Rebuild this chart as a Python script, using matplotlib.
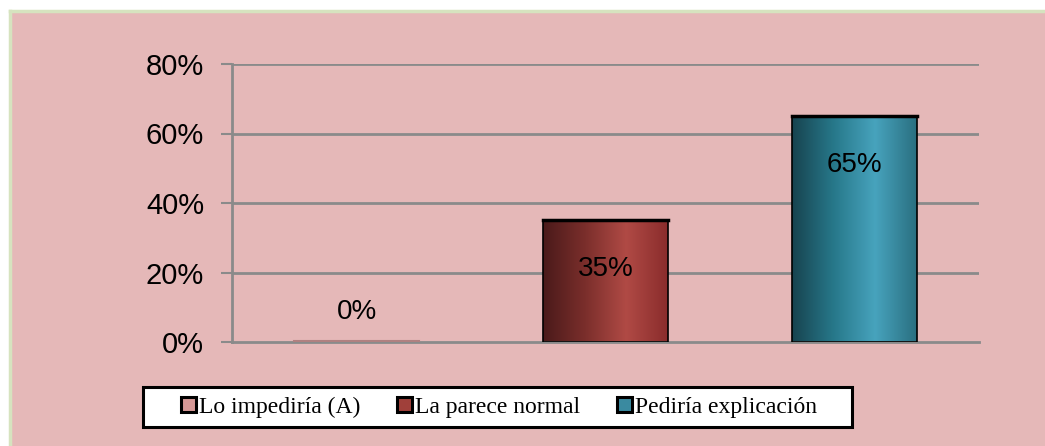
import numpy as np
import matplotlib.pyplot as plt
from matplotlib.colors import LinearSegmentedColormap
from matplotlib.patches import Patch, Rectangle

# Responses and share of answers
categories = ["Lo impediría (A)", "La parece normal", "Pediría explicación"]
values = [0.0, 0.35, 0.65]
labels = ["0%", "35%", "65%"]
yticks = [0.0, 0.2, 0.4, 0.6, 0.8]

bg = "#e5b8b8"
legend_colors = ["#d69896", "#a0403a", "#3a8aa0"]
# horizontal shading for each bar (dark edge -> highlight -> mid)
shades = [
    ["#b87878", "#f0b0b0", "#d89090"],
    ["#4a1a1a", "#7a2e2b", "#b04a45", "#8a2c2c"],
    ["#17434f", "#27788a", "#47a3bd", "#2a6f80"],
]

W, H = 1045, 446
fig = plt.figure(figsize=(W / 100, H / 100), dpi=100)
fig.patch.set_facecolor("white")

# pink panel with light green edge on top/left
back = fig.add_axes([10 / W, 0, 1 - 10 / W, 1 - 11 / H], zorder=-1)
back.set_facecolor(bg)
back.set_xticks([])
back.set_yticks([])
for s in ["right", "bottom"]:
    back.spines[s].set_visible(False)
for s in ["top", "left"]:
    back.spines[s].set_color("#d6e3bf")
    back.spines[s].set_linewidth(2.5)

ax = fig.add_axes([232 / W, 1 - 342 / H, (979 - 232) / W, (342 - 64) / H], zorder=1)
ax.set_facecolor("none")
ax.set_xlim(-0.5, 2.5)
ax.set_ylim(0, 0.8)

for y in yticks[1:]:
    ax.axhline(y, color="#8a8a8a", lw=2, zorder=1)

x = np.arange(len(categories))
width = 0.5
bars = ax.bar(x, values, width, color="none", edgecolor="black", lw=1.2, zorder=3)
grad = np.linspace(0, 1, 256).reshape(1, -1)
for i, (b, v) in enumerate(zip(bars, values)):
    if v <= 0:
        ax.plot([b.get_x(), b.get_x() + width], [0.002, 0.002], color="#b08080", lw=1.5, zorder=3)
        continue
    cmap = LinearSegmentedColormap.from_list(f"c{i}", shades[i])
    im = ax.imshow(grad, cmap=cmap, aspect="auto", zorder=2,
                   extent=[b.get_x(), b.get_x() + width, 0, v])
    im.set_clip_path(b)
    ax.plot([b.get_x(), b.get_x() + width], [v, v], color="black", lw=2.5, zorder=4)

for xi, v, lab in zip(x, values, labels):
    y = v - 0.14 if v > 0.1 else v + 0.085
    ax.text(xi, y, lab, ha="center", va="center", fontsize=20,
            family="Liberation Sans", zorder=5)

ax.set_yticks(yticks)
ax.set_yticklabels([f"{int(t * 100)}%" for t in yticks], fontsize=21, family="Liberation Sans")
ax.set_xticks([])
ax.tick_params(axis="y", length=8, width=1.5, color="#8a8a8a", pad=12)
for s in ["top", "right"]:
    ax.spines[s].set_visible(False)
for s in ["left", "bottom"]:
    ax.spines[s].set_color("#8a8a8a")
    ax.spines[s].set_linewidth(2)

# legend box
fig.add_artist(Rectangle((143 / W, 1 - 427 / H), (852 - 143) / W, 40 / H,
                         transform=fig.transFigure, facecolor="white",
                         edgecolor="black", lw=2.2, zorder=4))
handles = [Patch(facecolor=c, edgecolor="black", lw=2.2) for c in legend_colors]
leg = fig.legend(handles, categories, loc="center", ncol=3,
                 bbox_to_anchor=(499 / W, 1 - 407 / H),
                 prop={"family": "Liberation Serif", "size": 17},
                 frameon=False, handlelength=0.62, handleheight=0.62,
                 handletextpad=0.15, columnspacing=1.55, borderpad=0.2)
leg.set_zorder(5)

fig.savefig("out.png", dpi=100, facecolor=fig.get_facecolor())
